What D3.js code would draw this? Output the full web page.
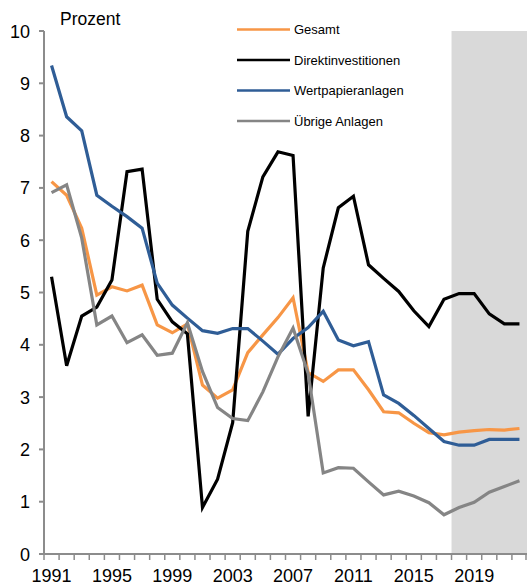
<!DOCTYPE html>
<html>
<head>
<meta charset="utf-8">
<script src="https://cdn.jsdelivr.net/npm/d3@7"></script>
<style>
  body { margin: 0; background: #fff; }
  svg { display: block; font-family: "Liberation Sans", Arial, sans-serif; }
</style>
</head>
<body>
<svg id="chart" width="527" height="586"></svg>
<script>
// Jahre (Kategorien)
let years = [1991, 1992, 1993, 1994, 1995, 1996, 1997, 1998, 1999, 2000,
             2001, 2002, 2003, 2004, 2005, 2006, 2007, 2008, 2009, 2010,
             2011, 2012, 2013, 2014, 2015, 2016, 2017, 2018, 2019, 2020,
             2021, 2022];

let gesamt = [7.12, 6.86, 6.23, 4.95, 5.11, 5.03, 5.14, 4.38, 4.23, 4.40,
              3.23, 2.98, 3.14, 3.85, 4.19, 4.52, 4.90, 3.47, 3.30, 3.52,
              3.52, 3.14, 2.72, 2.70, 2.50, 2.32, 2.28, 2.33, 2.36, 2.38,
              2.37, 2.40];

let direkt = [5.30, 3.60, 4.55, 4.72, 5.24, 7.31, 7.36, 4.87, 4.44, 4.21,
              0.89, 1.43, 2.51, 6.17, 7.21, 7.69, 7.62, 2.63, 5.47, 6.62,
              6.84, 5.53, 5.27, 5.02, 4.65, 4.35, 4.87, 4.98, 4.98, 4.59,
              4.40, 4.40];

let wertpapier = [9.34, 8.36, 8.09, 6.86, 6.65, 6.45, 6.23, 5.18, 4.76, 4.51,
                  4.27, 4.22, 4.31, 4.31, 4.07, 3.82, 4.12, 4.33, 4.64, 4.09,
                  3.98, 4.06, 3.04, 2.88, 2.65, 2.40, 2.15, 2.08, 2.08, 2.19,
                  2.19, 2.19];

let uebrige = [6.91, 7.06, 6.04, 4.38, 4.55, 4.04, 4.19, 3.80, 3.84, 4.42,
               3.49, 2.80, 2.59, 2.55, 3.10, 3.77, 4.32, 3.45, 1.55, 1.65,
               1.64, 1.38, 1.13, 1.20, 1.11, 0.98, 0.75, 0.89, 0.99, 1.18,
               1.29, 1.40];

// Prognosezeitraum (grau hinterlegt)
let forecastYears = [2018, 2019, 2020, 2021, 2022];

let yTicks = [0, 1, 2, 3, 4, 5, 6, 7, 8, 9, 10];
let xLabels = [1991, 1995, 1999, 2003, 2007, 2011, 2015, 2019];

let series = [
  { name: "Gesamt", values: gesamt, color: "#f79646" },
  { name: "Direktinvestitionen", values: direkt, color: "#000000" },
  { name: "Wertpapieranlagen", values: wertpapier, color: "#2f5d96" },
  { name: "Übrige Anlagen", values: uebrige, color: "#858585" }
];

let svg = d3.select("#chart");
let plotLeft = 44, plotRight = 527, plotTop = 31, plotBottom = 554;
let axisColor = "#8c8c8c";

let x = d3.scaleBand().domain(years).range([plotLeft, plotRight]).padding(0);
let y = d3.scaleLinear().domain([0, 10]).range([plotBottom, plotTop]);
let cx = function(yr){ return x(yr) + x.bandwidth() / 2; };

// shaded forecast area
svg.append("rect")
  .attr("x", x(forecastYears[0]))
  .attr("y", y(10))
  .attr("width", x(forecastYears[forecastYears.length - 1]) + x.bandwidth() - x(forecastYears[0]))
  .attr("height", y(0) - y(10))
  .style("fill", "#d9d9d9");

// lines
let line = d3.line()
  .x(function(d, i){ return cx(years[i]); })
  .y(function(d){ return y(d); });

series.forEach(function(s){
  svg.append("path")
    .attr("d", line(s.values))
    .style("fill", "none")
    .style("stroke", s.color)
    .style("stroke-width", 3.2)
    .style("stroke-linejoin", "miter");
});

// y axis
let yAxis = svg.append("g");
yAxis.append("line")
  .attr("x1", plotLeft).attr("x2", plotLeft)
  .attr("y1", y(10)).attr("y2", y(0))
  .style("stroke", axisColor).style("stroke-width", 2);
yAxis.selectAll(".ytick").data(yTicks).enter().append("line")
  .attr("x1", plotLeft - 5).attr("x2", plotLeft)
  .attr("y1", function(d){ return y(d); })
  .attr("y2", function(d){ return y(d); })
  .style("stroke", axisColor).style("stroke-width", 2);
yAxis.selectAll(".ylab").data(yTicks).enter().append("text")
  .attr("x", 30)
  .attr("y", function(d){ return y(d) + 6.5; })
  .attr("text-anchor", "end")
  .style("font-size", "18px")
  .style("fill", "#000")
  .text(function(d){ return d; });

// x axis
let xAxis = svg.append("g");
xAxis.append("line")
  .attr("x1", plotLeft - 1).attr("x2", plotRight)
  .attr("y1", plotBottom).attr("y2", plotBottom)
  .style("stroke", axisColor).style("stroke-width", 2);
let boundaries = years.map(function(d){ return x(d); }).concat([plotRight - 1]);
xAxis.selectAll(".xtick").data(boundaries).enter().append("line")
  .attr("x1", function(d){ return d; })
  .attr("x2", function(d){ return d; })
  .attr("y1", plotBottom).attr("y2", plotBottom + 6)
  .style("stroke", axisColor).style("stroke-width", 1.5);
xAxis.selectAll(".xlab").data(xLabels).enter().append("text")
  .attr("x", function(d){ return cx(d); })
  .attr("y", 582)
  .attr("text-anchor", "middle")
  .style("font-size", "18px")
  .style("fill", "#000")
  .text(function(d){ return d; });

// unit label
svg.append("text")
  .attr("x", 60).attr("y", 25)
  .style("font-size", "17.5px")
  .text("Prozent");

// legend
let legend = svg.append("g");
series.forEach(function(s, i){
  let ly = 29.5 + i * 30.5;
  legend.append("line")
    .attr("x1", 237).attr("x2", 290)
    .attr("y1", ly).attr("y2", ly)
    .style("stroke", s.color).style("stroke-width", 2.5);
  legend.append("text")
    .attr("x", 294).attr("y", ly + 4.5)
    .style("font-size", "13px")
    .text(s.name);
});
</script>
</body>
</html>
